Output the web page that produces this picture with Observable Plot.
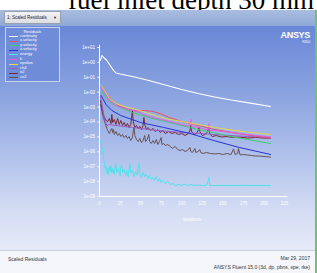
<!DOCTYPE html>
<html><head><meta charset="utf-8">
<script src="https://cdn.jsdelivr.net/npm/d3@7"></script>
<script src="https://cdn.jsdelivr.net/npm/@observablehq/plot@0.6"></script>
<style>
html,body{margin:0;padding:0;background:#fff;}
#wrap{position:relative;width:317px;height:273px;overflow:hidden;font-family:"Liberation Sans Narrow","Liberation Sans",sans-serif;}
#title{position:absolute;left:68px;top:-13px;font-family:"Liberation Serif",serif;font-size:27px;line-height:27px;color:#000;white-space:nowrap;}
#panel{position:absolute;left:0;top:10px;width:317px;height:263px;background:#f3f5fa;border-right:2px solid #6cc46c;box-sizing:border-box;}
#strip{position:absolute;left:0;top:0;width:315px;height:16px;background:linear-gradient(#a9bde0,#8ea8d8);}
#drop{position:absolute;left:4px;top:1px;width:57px;height:13px;background:linear-gradient(#f4f4f6,#dcdde2);border:1px solid #9aa0ad;box-sizing:border-box;font-size:4.5px;color:#223;line-height:11px;padding-left:2px;}
#drop span{position:absolute;right:3px;top:0;font-size:4px;}
#view{position:absolute;left:0;top:16px;width:315px;height:224px;background:linear-gradient(#6987d7 0%,#8aa3df 30%,#b3c3ec 60%,#d3dcf3 82%,#e6eaf8 100%);}
#foot{position:absolute;left:0;top:240px;width:315px;height:23px;border-top:1px solid #c9d0e2;background:#f4f6fb;}
#legend{position:absolute;left:5px;top:17px;width:55px;height:55px;border:1px solid #c9d3ee;box-sizing:border-box;background:#6f8cd8;}
.lt{position:absolute;left:0;top:1px;width:100%;text-align:center;font-size:4px;color:#fff;}
.le{position:absolute;left:3px;height:4px;width:50px;}
.sw{position:absolute;left:0;top:2px;width:9px;height:1px;}
.ln{position:absolute;left:11px;top:-0.5px;font-size:4px;line-height:4px;color:#fff;}
#logo{position:absolute;right:5px;top:21px;color:#fff;font-weight:bold;font-size:9px;letter-spacing:-0.3px;text-align:right;line-height:9px;font-stretch:condensed;}
#logo div{font-size:3.5px;font-weight:normal;line-height:4px;}
.ft{position:absolute;font-size:5px;color:#333;white-space:nowrap;}
#chart{position:absolute;left:0;top:16px;}
</style></head>
<body>
<div id="wrap">
  <div id="title">fuel inlet depth 30 mm</div>
  <div id="panel">
    <div id="strip"></div>
    <div id="view"></div>
    <div id="chart"></div>
    <div id="drop">1: Scaled Residuals<span>&#9660;</span></div>
    <div id="legend"><div class="lt">Residuals</div></div>
    <div id="logo">ANSYS<div>R15.0</div></div>
    <div id="foot">
      <div class="ft" style="left:8px;top:5px;">Scaled Residuals</div>
      <div class="ft" style="right:5px;top:4px;">Mar 29, 2017</div>
      <div class="ft" style="right:5px;top:13px;">ANSYS Fluent 15.0 (3d, dp, pbns, spe, rke)</div>
    </div>
  </div>
</div>
<script>
const xTicks = [0,25,50,75,100,125,150,175,200,225];
const yTicks = [1e1,1e0,1e-1,1e-2,1e-3,1e-4,1e-5,1e-6,1e-7,1e-8,1e-9];
const seriesNames = ["continuity","x-velocity","y-velocity","z-velocity","energy","k","epsilon","ch4","o2","co2"];
const seriesColors = ["#ffffff","#e2506a","#3ccf6a","#2a34d4","#4fe3ea","#e25ee0","#e9d64c","#9a5cc4","#7a2434","#6a5252"];

const contIt = [1,3,5,9,13,17,20,25,40,60,80,100,120,140,160,180,208];
const contVal = [1.34,2.9,2.13,1.34,0.62,0.29,0.195,0.166,0.113,0.061,0.030,0.0152,0.0082,0.0048,0.003,0.002,0.0011];

const xVelIt = [2,8,15,25,35,45,55,65,75,85,100,120,140,160,180,208];
const xVelVal = [0.0282,8.2e-3,2.77e-3,1.10e-3,6.9e-4,5.5e-4,5.9e-4,5.1e-4,3.44e-4,2.0e-4,1.08e-4,5.8e-5,3.14e-5,2.0e-5,1.34e-5,8.4e-6];

const yVelIt = [2,8,15,25,40,60,80,100,120,140,160,180,208];
const yVelVal = [0.0130,4.4e-3,1.75e-3,9.4e-4,4.3e-4,2.0e-4,1.08e-4,5.8e-5,3.14e-5,1.83e-5,1.06e-5,6.7e-6,3.6e-6];

const zVelIt = [2,8,15,26,50,78,110,139,170,208];
const zVelVal = [6.0e-3,1.49e-3,5.9e-4,2.7e-4,9.2e-5,4.3e-5,1.69e-5,5.7e-6,1.95e-6,6.6e-7];

const energyIt = [1,2,3,4,5,6,7,8,9,10,11,12,13,14,15,16,18,19,20,21,23,25,26,27,28,30,32,33,35,36,37,38,40,42,44,46,47,48,49,51,53,55,57,59,61,63,65,67,69,71,73,75,77,80,83,86,89,92,96,100,104,107,111,115,120,125,130,132,133,134,140,160,180,200,208];
const energyVal = [5.7e-6,3.6e-6,1.95e-6,9.0e-7,3.55e-7,1.64e-7,7.57e-8,1.03e-7,3.5e-8,7.57e-8,3.0e-8,1.03e-7,4.77e-8,1.2e-7,4.08e-8,7.57e-8,3.0e-8,1.03e-7,1.64e-7,4.08e-8,7.57e-8,2.57e-8,8.85e-8,1.41e-7,4.08e-8,6.49e-8,2.57e-8,5.56e-8,2.2e-8,7.57e-8,1.64e-7,4.08e-8,5.56e-8,2.2e-8,4.77e-8,2.57e-8,7.57e-8,1.64e-7,3.5e-8,1.89e-8,4.08e-8,2.2e-8,3.0e-8,1.62e-8,2.57e-8,1.38e-8,1.89e-8,1.19e-8,2.2e-8,1.02e-8,1.62e-8,8.7e-9,1.19e-8,7.5e-9,1.02e-8,6.4e-9,7.5e-9,5.5e-9,6.4e-9,5.5e-9,6.9e-9,5.5e-9,6.4e-9,5.5e-9,5.9e-9,5.5e-9,5.5e-9,1.02e-8,1.89e-8,5.5e-9,5.5e-9,5.5e-9,5.5e-9,5.5e-9,5.5e-9];

const kIt = [2,6,12,20,30,45,60,80,100,110,111,112,120,132,133,134,140,160,180,208];
const kVal = [0.0242,9.5e-3,2.77e-3,1.28e-3,8.1e-4,5.1e-4,2.34e-4,1.26e-4,6.8e-5,5.4e-5,1.47e-4,5.0e-5,4.3e-5,2.9e-5,7.9e-5,2.7e-5,2.7e-5,2.0e-5,1.45e-5,9.8e-6];

const epsIt = [2,6,12,20,30,45,60,80,100,120,140,160,180,208];
const epsVal = [0.0282,0.0130,3.78e-3,1.75e-3,1.10e-3,6.9e-4,3.72e-4,1.72e-4,1.08e-4,6.8e-5,4.3e-5,2.9e-5,2.13e-5,1.45e-5];

const ch4It = [1,3,5,7,9,12,20,40,70,100,140,180,208];
const ch4Val = [5.1e-3,1.49e-3,3.19e-4,1.08e-4,5.8e-5,6.8e-5,5.8e-5,4.3e-5,2.7e-5,2.0e-5,1.45e-5,1.06e-5,9.1e-6];

const o2It = [1,5,8,10,12,14,15,16,18,20,22,24,26,28,30,32,34,36,38,39,40,41,43,45,47,49,51,53,54,55,57,59,62,65,68,71,74,77,80,84,88,92,96,100,104,108,110,111,112,115,118,120,121,122,125,128,131,133,134,137,142,148,155,162,170,180,190,200,208];
const o2Val = [2.77e-3,2.73e-4,1.26e-4,1.08e-4,1.72e-4,7.9e-5,3.2e-4,9.2e-5,1.47e-4,6.8e-5,1.72e-4,6.8e-5,1.26e-4,5.8e-5,9.2e-5,5.0e-5,7.9e-5,4.3e-5,6.8e-5,1.72e-4,5.9e-4,1.08e-4,4.3e-5,5.8e-5,3.7e-5,5.0e-5,3.1e-5,5.8e-5,2.0e-4,6.8e-5,3.1e-5,4.3e-5,2.7e-5,3.7e-5,2.3e-5,3.1e-5,2.0e-5,2.7e-5,1.69e-5,2.3e-5,1.69e-5,2.0e-5,1.45e-5,1.69e-5,1.24e-5,1.69e-5,2.7e-5,5.8e-5,2.3e-5,1.45e-5,1.69e-5,2.7e-5,4.4e-5,2.3e-5,1.24e-5,1.45e-5,2.0e-5,4.4e-5,1.69e-5,1.06e-5,1.24e-5,9.8e-6,1.06e-5,9.1e-6,9.8e-6,8.4e-6,9.1e-6,8.4e-6,8.4e-6];

const co2It = [1,2,3,4,5,7,9,10,12,13,15,16,17,18,20,22,24,26,28,30,32,34,36,38,40,41,42,43,45,47,49,51,53,55,56,58,60,61,63,65,67,69,71,73,75,76,78,80,83,86,89,92,95,98,101,104,107,110,111,113,116,117,120,122,123,126,130,135,140,145,150,155,160,163,165,168,169,171,175,180,185,190,195,200,208];
const co2Val = [1.49e-3,9.4e-4,5.07e-4,2.73e-4,1.72e-4,7.9e-5,3.66e-5,2.69e-5,1.69e-5,2.31e-5,3.66e-5,1.97e-5,3.14e-5,1.45e-5,2.31e-5,1.24e-5,1.69e-5,1.06e-5,1.45e-5,9.1e-6,1.24e-5,7.8e-6,1.06e-5,5.7e-6,9.1e-6,2.31e-5,4.27e-5,1.24e-5,6.7e-6,4.9e-6,7.8e-6,4.2e-6,5.7e-6,1.24e-5,4.9e-6,6.7e-6,1.45e-5,4.9e-6,3.6e-6,5.7e-6,3.6e-6,6.7e-6,3.09e-6,4.9e-6,9.1e-6,3.09e-6,3.6e-6,2.65e-6,3.09e-6,2.27e-6,1.67e-6,2.27e-6,1.43e-6,1.22e-6,1.43e-6,1.05e-6,1.22e-6,1.95e-6,1.05e-6,9.0e-7,1.67e-6,9.0e-7,1.05e-6,1.43e-6,9.0e-7,7.7e-7,9.0e-7,7.7e-7,7.2e-7,7.7e-7,6.6e-7,7.7e-7,6.6e-7,1.55e-6,6.6e-7,7.7e-7,1.67e-6,6.1e-7,6.6e-7,6.1e-7,5.6e-7,5.2e-7,5.2e-7,4.8e-7,4.45e-7];

const its = [contIt,xVelIt,yVelIt,zVelIt,energyIt,kIt,epsIt,ch4It,o2It,co2It];
const vals = [contVal,xVelVal,yVelVal,zVelVal,energyVal,kVal,epsVal,ch4Val,o2Val,co2Val];
const drawOrder = [4,9,8,7,3,2,1,5,6,0];

function rowsOf(i){ return its[i].map((it,j)=>({it, v: vals[i][j]})); }

const fmt = d => { const e = Math.round(Math.log10(d)); return "1e" + (e < 0 ? "-" : "+") + String(Math.abs(e)).padStart(2,"0"); };

const plot = Plot.plot({
  width: 315, height: 224,
  marginLeft: 99, marginRight: 31, marginTop: 21, marginBottom: 54,
  style: {background: "transparent", color: "#fff", fontSize: "4.5px", fontFamily: "'Liberation Sans Narrow','Liberation Sans',sans-serif"},
  x: {domain: [0, 225], ticks: xTicks, tickSize: 0, tickPadding: 5, label: "Iterations", labelAnchor: "center", labelOffset: 24, labelArrow: "none"},
  y: {type: "log", domain: [1e-9, 10], ticks: yTicks, tickFormat: fmt, tickSize: 1.5, tickPadding: 3, label: null},
  marks: [
    Plot.ruleY([1e-9], {x1: 0, x2: 229, stroke: "#ffffff", strokeWidth: 1}),
    Plot.ruleX([0], {y1: 1e-9, y2: 14, stroke: "#ffffff", strokeWidth: 1}),
    ...drawOrder.map(i => Plot.line(rowsOf(i), {x: "it", y: "v", stroke: seriesColors[i], strokeWidth: i === 0 ? 1.1 : 1}))
  ]
});
document.getElementById("chart").appendChild(plot);

const leg = document.getElementById("legend");
seriesNames.forEach((n, i) => {
  const e = document.createElement("div");
  e.className = "le";
  e.style.top = (6 + i * 4.6) + "px";
  e.innerHTML = `<div class="sw" style="background:${seriesColors[i]}"></div><div class="ln">${n}</div>`;
  leg.appendChild(e);
});
</script>
</body></html>
